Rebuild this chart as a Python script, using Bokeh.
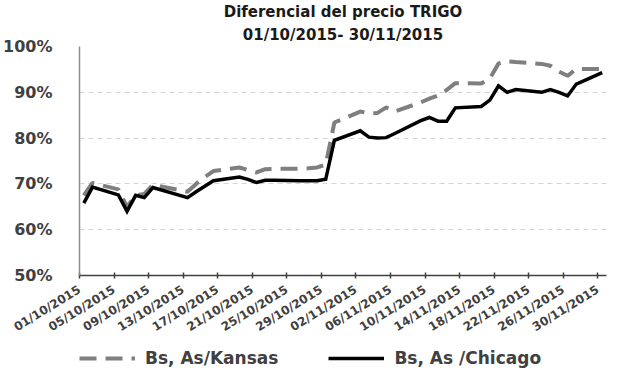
import pandas as pd
from bokeh.plotting import figure
from bokeh.layouts import column
from bokeh.models import (Range1d, FixedTicker, DatetimeTickFormatter, PrintfTickFormatter,
                          Legend, LegendItem, ColumnDataSource, Title)
from bokeh.embed import file_html
from bokeh.resources import INLINE

title_lines = ["Diferencial del precio TRIGO", "01/10/2015- 30/11/2015"]

dates = ["2015-10-01", "2015-10-02", "2015-10-05", "2015-10-06", "2015-10-07", "2015-10-08",
         "2015-10-09", "2015-10-13", "2015-10-14", "2015-10-15", "2015-10-16", "2015-10-19",
         "2015-10-20", "2015-10-21", "2015-10-22", "2015-10-23", "2015-10-26", "2015-10-27",
         "2015-10-28", "2015-10-29", "2015-10-30", "2015-11-02", "2015-11-03", "2015-11-04",
         "2015-11-05", "2015-11-06", "2015-11-09", "2015-11-10", "2015-11-11", "2015-11-12",
         "2015-11-13", "2015-11-16", "2015-11-17", "2015-11-18", "2015-11-19", "2015-11-20",
         "2015-11-23", "2015-11-24", "2015-11-25", "2015-11-26", "2015-11-27", "2015-11-30"]

kansas = [67.5, 70.2, 68.8, 65.0, 67.5, 67.8, 69.8, 68.3, 70.0, 71.5, 72.8, 73.6,
          73.0, 72.5, 73.2, 73.3, 73.3, 73.4, 73.6, 74.2, 83.4, 85.8, 85.4, 85.5,
          86.7, 85.8, 87.8, 88.6, 89.3, 90.5, 92.0, 91.9, 93.0, 96.3, 96.8, 96.6,
          96.2, 95.8, 94.5, 93.6, 95.1, 95.1]

chicago = [65.8, 69.3, 67.6, 64.0, 67.5, 67.0, 69.2, 67.0, 68.3, 69.5, 70.7, 71.5,
           71.0, 70.3, 70.8, 70.8, 70.7, 70.7, 70.7, 71.0, 79.5, 81.6, 80.2, 80.0,
           80.1, 81.0, 83.8, 84.5, 83.7, 83.7, 86.6, 86.9, 88.3, 91.4, 90.0, 90.6,
           90.0, 90.6, 90.0, 89.2, 91.8, 94.3]

series_names = ["Bs, As/Kansas", "Bs, As /Chicago"]

tick_dates = ["2015-10-01", "2015-10-05", "2015-10-09", "2015-10-13", "2015-10-17",
              "2015-10-21", "2015-10-25", "2015-10-29", "2015-11-02", "2015-11-06",
              "2015-11-10", "2015-11-14", "2015-11-18", "2015-11-22", "2015-11-26",
              "2015-11-30"]

y_ticks = [50, 60, 70, 80, 90, 100]

TEXT = "#404040"
FONT = "DejaVu Sans"
KANSAS_STYLE = dict(line_color="#7f7f7f", line_width=4, line_dash="17 9")
CHICAGO_STYLE = dict(line_color="#000000", line_width=3.5, line_join="miter")

# Excel date axis: each point sits in the middle of its day slot
x = pd.to_datetime(dates) + pd.Timedelta(hours=12)
src = ColumnDataSource(dict(x=x, kansas=kansas, chicago=chicago))

p = figure(frame_width=527, frame_height=229, x_axis_type="datetime",
           x_range=Range1d(pd.Timestamp("2015-10-01"), pd.Timestamp("2015-12-01")),
           y_range=Range1d(50, 100),
           output_backend="svg", toolbar_location=None,
           min_border_left=78, min_border_right=7, min_border_top=10, min_border_bottom=72)

# two centred title lines: p.title is the outer (top) one
p.title.text = title_lines[0]
p.title.align = "center"
p.title.offset = -7
p.title.text_font = FONT
p.title.text_font_size = "15px"
p.title.text_font_style = "bold"
p.title.text_color = "#1a1a1a"
p.title.standoff = 0
t2 = Title(text=title_lines[1], align="center", offset=-7, text_font=FONT,
           text_font_size="15px", text_font_style="bold", text_color="#1a1a1a",
           standoff=6)
p.add_layout(t2, "above")

p.outline_line_color = None
p.background_fill_color = "white"
p.border_fill_color = "white"

p.xgrid.grid_line_color = None
p.ygrid.grid_line_color = "#d4d4d4"
p.ygrid.grid_line_dash = "5 4"
p.ygrid.grid_line_width = 1

# axes
xa = p.xaxis[0]
xa.ticker = FixedTicker(ticks=[pd.Timestamp(d).value // 10**6 for d in tick_dates])
xa.formatter = DatetimeTickFormatter(days="%d/%m/%Y", months="%d/%m/%Y", hours="%d/%m/%Y",
                                     years="%d/%m/%Y")
xa.major_label_orientation = 0.55
xa.major_label_text_font = FONT
xa.major_label_text_font_size = "12px"
xa.major_label_text_font_style = "bold"
xa.major_label_text_color = TEXT
xa.major_label_standoff = 10
xa.axis_line_color = "#404040"
xa.axis_line_width = 1.5
xa.major_tick_line_color = "#404040"
xa.major_tick_line_width = 1.5
xa.major_tick_in = 3
xa.major_tick_out = 3
xa.minor_tick_line_color = None

ya = p.yaxis[0]
ya.ticker = FixedTicker(ticks=y_ticks)
ya.formatter = PrintfTickFormatter(format="%d%%")
ya.major_label_text_font = FONT
ya.major_label_text_font_size = "16px"
ya.major_label_text_font_style = "bold"
ya.major_label_text_color = TEXT
ya.major_label_standoff = 21
ya.axis_line_color = "#8c8c8c"
ya.axis_line_width = 1.5
ya.major_tick_line_color = None
ya.minor_tick_line_color = None

p.line("x", "kansas", source=src, **KANSAS_STYLE)
p.line("x", "chicago", source=src, **CHICAGO_STYLE)

# legend strip below the chart (same series styles, data kept out of its view);
# its frame is aligned with the chart frame by the column layout
lf = figure(width=612, height=22, x_range=Range1d(0, 1), y_range=Range1d(0, 1),
            x_axis_location=None, y_axis_location=None,
            output_backend="svg", toolbar_location=None,
            min_border_left=0, min_border_right=0, min_border_top=0, min_border_bottom=0)
lf.grid.grid_line_color = None
lf.outline_line_color = None
lk = lf.line("x", "kansas", source=src, **KANSAS_STYLE)
lc = lf.line("x", "chicago", source=src, **CHICAGO_STYLE)

legend = Legend(items=[LegendItem(label=series_names[0], renderers=[lk]),
                       LegendItem(label=series_names[1], renderers=[lc])],
                orientation="horizontal", location=(0, 1))
legend.label_text_font = FONT
legend.label_text_font_size = "17px"
legend.label_text_font_style = "bold"
legend.label_text_color = TEXT
legend.glyph_width = 56
legend.glyph_height = 20
legend.label_height = 20
legend.label_standoff = 10
legend.spacing = 50
legend.padding = 0
legend.margin = 0
legend.border_line_color = None
legend.background_fill_alpha = 0
lf.add_layout(legend)

layout = column(p, lf, spacing=0)

open("out.html", "w").write(file_html(layout, INLINE))
